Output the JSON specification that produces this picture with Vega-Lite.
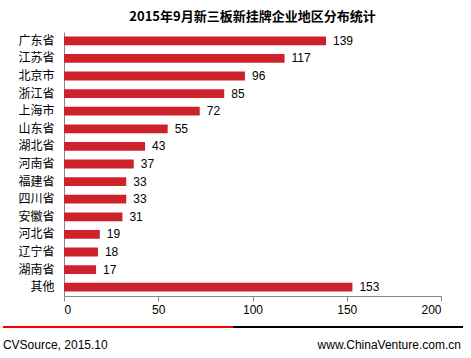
{
  "$schema": "https://vega.github.io/schema/vega-lite/v6.json",
  "autosize": "none",
  "width": 377,
  "height": 264,
  "padding": {"left": 64, "top": 32, "right": 30, "bottom": 62},
  "background": "white",
  "title": {"text": "2015年9月新三板新挂牌企业地区分布统计", "font": "Noto Sans CJK SC", "fontSize": 13, "fontWeight": "bold", "color": "#000000", "anchor": "middle", "offset": 8},
  "config": {"view": {"stroke": null}},
  "datasets": {
    "bars": [
      {"region": "广东省", "count": 139},
      {"region": "江苏省", "count": 117},
      {"region": "北京市", "count": 96},
      {"region": "浙江省", "count": 85},
      {"region": "上海市", "count": 72},
      {"region": "山东省", "count": 55},
      {"region": "湖北省", "count": 43},
      {"region": "河南省", "count": 37},
      {"region": "福建省", "count": 33},
      {"region": "四川省", "count": 33},
      {"region": "安徽省", "count": 31},
      {"region": "河北省", "count": 19},
      {"region": "辽宁省", "count": 18},
      {"region": "湖南省", "count": 17},
      {"region": "其他", "count": 153}
    ],
    "footer_lines": [
      {"x": -32.4, "x2": 89.7, "yy": -0.117, "col": "red"},
      {"x": 89.7, "x2": 211.7, "yy": -0.117, "col": "black"}
    ],
    "footer_left": [
      {"x": -32.4, "yy": -0.186, "label": "CVSource, 2015.10"}
    ],
    "footer_right": [
      {"x": 210.6, "yy": -0.186, "label": "www.ChinaVenture.com.cn"}
    ]
  },
  "layer": [
    {
      "data": {"name": "bars"},
      "layer": [
        {
          "mark": {"type": "bar", "color": "#CC2229"},
          "encoding": {
            "y": {"field": "region", "type": "nominal", "sort": null,
              "scale": {"paddingInner": 0.5, "paddingOuter": 0.25},
              "axis": {"title": null, "ticks": false, "domainColor": "#888888", "labelFont": "Noto Sans CJK SC", "labelFontSize": 12, "labelColor": "#000000", "labelPadding": 10}},
            "x": {"field": "count", "type": "quantitative",
              "scale": {"domain": [0, 200], "nice": false, "zero": false},
              "axis": {"title": null, "values": [0, 50, 100, 150, 200], "grid": false, "tickColor": "#888888", "domainColor": "#888888", "tickSize": 5, "labelFont": "Liberation Sans", "labelFontSize": 12, "labelColor": "#000000", "labelPadding": 3}}
          }
        },
        {
          "mark": {"type": "text", "align": "left", "dx": 7, "font": "Liberation Sans", "fontSize": 12, "color": "#000000"},
          "encoding": {
            "y": {"field": "region", "type": "nominal", "sort": null},
            "x": {"field": "count", "type": "quantitative"},
            "text": {"field": "count", "type": "quantitative"}
          }
        }
      ]
    },
    {
      "layer": [
        {
          "data": {"name": "footer_lines"},
          "mark": {"type": "rule", "strokeWidth": 2, "clip": false},
          "encoding": {
            "x": {"field": "x", "type": "quantitative"},
            "x2": {"field": "x2"},
            "y": {"field": "yy", "type": "quantitative", "scale": {"domain": [0, 1], "nice": false, "zero": false}, "axis": null},
            "color": {"field": "col", "type": "nominal", "scale": {"domain": ["red", "black"], "range": ["#FF0000", "#000000"]}, "legend": null}
          }
        },
        {
          "data": {"name": "footer_left"},
          "mark": {"type": "text", "align": "left", "font": "Liberation Sans", "fontSize": 12, "color": "#000000", "baseline": "middle", "clip": false},
          "encoding": {
            "x": {"field": "x", "type": "quantitative"},
            "y": {"field": "yy", "type": "quantitative"},
            "text": {"field": "label"}
          }
        },
        {
          "data": {"name": "footer_right"},
          "mark": {"type": "text", "align": "right", "font": "Liberation Sans", "fontSize": 12, "color": "#000000", "baseline": "middle", "clip": false},
          "encoding": {
            "x": {"field": "x", "type": "quantitative"},
            "y": {"field": "yy", "type": "quantitative"},
            "text": {"field": "label"}
          }
        }
      ]
    }
  ],
  "resolve": {"scale": {"y": "independent"}}
}
